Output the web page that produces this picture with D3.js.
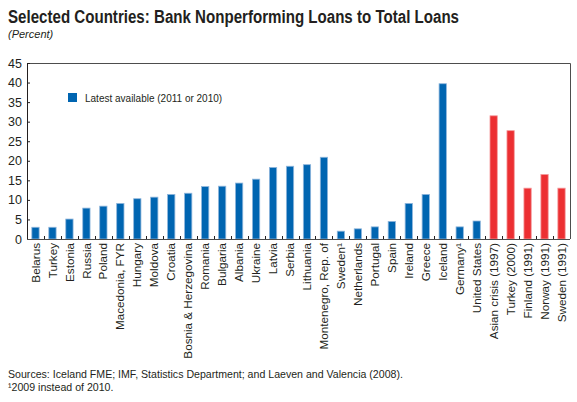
<!DOCTYPE html>
<meta charset="utf-8">
<style>
    body { margin: 0; background: #fff; }
    text { font-family: "Liberation Sans", Arial, sans-serif; fill: #231f20; }
    .title { font-family: "Liberation Sans Narrow", "Liberation Sans", Arial, sans-serif; font-weight: bold; font-size: 18px; }
    .sub { font-style: italic; font-size: 11px; }
    .note { font-size: 10.6px; }
    .axis text { font-size: 12.5px; fill: #231f20; }
    .xlab { font-size: 11.7px; }
</style>
<svg width="577" height="402"></svg>
<script src="https://d3js.org/d3.v7.min.js"></script>
<script>

    // latest available (2011 or 2010)
    var countries = ["Belarus", "Turkey", "Estonia", "Russia", "Poland", "Macedonia, FYR", "Hungary", "Moldova",
        "Croatia", "Bosnia & Herzegovina", "Romania", "Bulgaria", "Albania", "Ukraine", "Latvia", "Serbia",
        "Lithuania", "Montenegro, Rep. of", "Sweden\u00b9", "Netherlands", "Portugal", "Spain", "Ireland", "Greece",
        "Iceland", "Germany\u00b9", "United States"];
    var latest = [3.0, 3.0, 5.1, 7.9, 8.4, 9.1, 10.3, 10.7,
        11.4, 11.7, 13.4, 13.5, 14.3, 15.3, 18.3, 18.6,
        19.0, 20.9, 2.0, 2.6, 3.1, 4.5, 9.1, 11.4,
        39.7, 3.1, 4.6];

    // past crises
    var crises = ["Asian crisis (1997)", "Turkey (2000)", "Finland (1991)", "Norway (1991)", "Sweden (1991)"];
    var crisisValues = [31.5, 27.7, 13.0, 16.5, 13.0];

    var yTicks = [0, 5, 10, 15, 20, 25, 30, 35, 40, 45];

    var svg = d3.select("svg"),
        mLeft = 27, mRight = 570, mTop = 63, mBottom = 239;

    var bars = countries.map(function(c, i) { return {name: c, value: latest[i], crisis: false}; })
        .concat(crises.map(function(c, i) { return {name: c, value: crisisValues[i], crisis: true}; }));

    var x = d3.scaleBand()
        .domain(bars.map(function(d) { return d.name; }))
        .range([mLeft, mRight])
        .paddingInner(0.57)
        .paddingOuter(0.285);

    var y = d3.scaleLinear().domain([0, 45]).range([mBottom, mTop]);

    // titles
    svg.append("text").attr("class", "title")
        .attr("x", 8).attr("y", 23)
        .attr("textLength", 451).attr("lengthAdjust", "spacingAndGlyphs")
        .text("Selected Countries: Bank Nonperforming Loans to Total Loans");
    svg.append("text").attr("class", "sub")
        .attr("x", 8).attr("y", 38)
        .text("(Percent)");

    // frame (top and right)
    svg.append("path")
        .attr("d", "M" + mLeft + "," + (mTop + 0.5) + "H" + (mRight + 0.5) + "V" + mBottom)
        .attr("fill", "none").attr("stroke", "#4d4d4d").attr("stroke-width", 1);

    // bars
    svg.append("g").selectAll("rect")
        .data(bars)
        .enter().append("rect")
        .attr("x", function(d) { return x(d.name); })
        .attr("width", x.bandwidth())
        .attr("y", function(d) { return y(d.value); })
        .attr("height", function(d) { return y(0) - y(d.value); })
        .attr("fill", function(d) { return d.crisis ? "#ec2f32" : "#0065b1"; })
        .attr("stroke", function(d) { return d.crisis ? "#f49a9c" : "#8fb6dc"; })
        .attr("stroke-width", 0.8);

    // y axis, ticks inside
    var yAxis = svg.append("g").attr("class", "axis")
        .attr("transform", "translate(" + mLeft + ",0)")
        .call(d3.axisLeft(y).tickValues(yTicks).tickSize(-3).tickPadding(5).tickSizeOuter(0));
    yAxis.select(".domain").attr("stroke", "#231f20");
    yAxis.selectAll(".tick line").attr("stroke", "#231f20");
    yAxis.selectAll(".tick text").attr("fill", "#231f20");

    // x baseline and ticks between bars
    var step = x.step();
    svg.append("line")
        .attr("x1", mLeft).attr("x2", mRight)
        .attr("y1", y(0) + 0.5).attr("y2", y(0) + 0.5)
        .attr("stroke", "#4d4d4d");
    svg.append("g").selectAll("line")
        .data(bars.slice(1))
        .enter().append("line")
        .attr("x1", function(d) { return Math.round(x(d.name) + x.bandwidth() / 2 - step / 2) + 0.5; })
        .attr("x2", function(d) { return Math.round(x(d.name) + x.bandwidth() / 2 - step / 2) + 0.5; })
        .attr("y1", y(0)).attr("y2", y(0) - 3)
        .attr("stroke", "#231f20");

    // x labels, rotated
    svg.append("g").selectAll("text")
        .data(bars)
        .enter().append("text")
        .attr("class", "xlab")
        .attr("text-anchor", "end")
        .attr("dy", "0.35em")
        .attr("transform", function(d) {
            return "translate(" + (x(d.name) + x.bandwidth() / 2) + "," + (mBottom + 4) + ") rotate(-90)";
        })
        .text(function(d) { return d.name; });

    // legend
    svg.append("rect")
        .attr("x", 68).attr("y", 93).attr("width", 9).attr("height", 9)
        .attr("fill", "#0065b1");
    svg.append("text")
        .attr("x", 85).attr("y", 102)
        .style("font-size", "10px")
        .text("Latest available (2011 or 2010)");

    // notes
    svg.append("text").attr("class", "note")
        .attr("x", 8).attr("y", 378)
        .text("Sources: Iceland FME; IMF, Statistics Department; and Laeven and Valencia (2008).");
    svg.append("text").attr("class", "note")
        .attr("x", 8).attr("y", 391)
        .text("\u00b92009 instead of 2010.");

</script>
